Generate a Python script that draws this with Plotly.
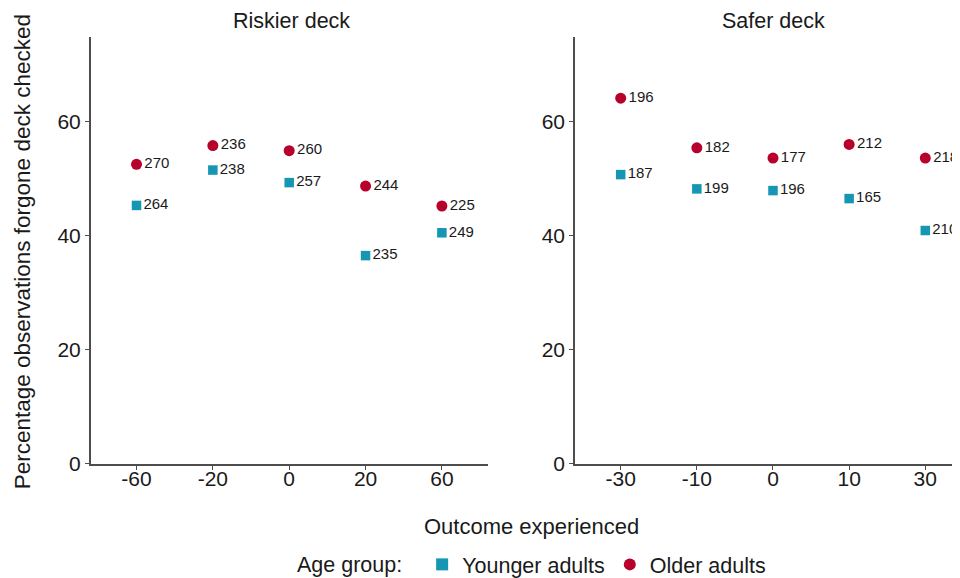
import plotly.graph_objects as go

# ---- data ----
risky_outcomes = ["-60", "-20", "0", "20", "60"]
safe_outcomes = ["-30", "-10", "0", "10", "30"]

risky_younger_pct = [45.3, 51.5, 49.3, 36.5, 40.5]
risky_younger_n = [264, 238, 257, 235, 249]
risky_older_pct = [52.5, 55.8, 54.9, 48.7, 45.2]
risky_older_n = [270, 236, 260, 244, 225]

safe_younger_pct = [50.7, 48.2, 47.9, 46.5, 40.9]
safe_younger_n = [187, 199, 196, 165, 210]
safe_older_pct = [64.1, 55.4, 53.6, 56.0, 53.6]
safe_older_n = [196, 182, 177, 212, 218]

y_ticks = [0, 20, 40, 60]

BLUE = "#1596B3"
RED = "#B8002C"
INK = "#1a1a1a"
FONT = "Liberation Sans, Arial, Helvetica, sans-serif"

# page body has an 8px margin; vertical positions are mapped with a measured factor
OFF = 8
YOFF, YK = 8.5, 0.978
W, H = 960 - OFF, 590


def px(x):  # window pixel x -> paper fraction
    return (x - OFF) / W


def py(y):  # window pixel y -> paper fraction
    return 1 - ((y - YOFF) / YK) / H


fig = go.Figure()


def add(x, y, n, color, symbol, size, name, xa, ya, show):
    fig.add_trace(go.Scatter(
        x=x, y=y, mode="markers+text",
        text=[str(v) for v in n], textposition="middle right",
        textfont=dict(size=15, color=INK, family=FONT),
        marker=dict(color=color, symbol=symbol, size=size),
        name=name, legendgroup=name, showlegend=show,
        xaxis=xa, yaxis=ya, cliponaxis=False, hoverinfo="x+y",
    ))


add(risky_outcomes, risky_younger_pct, risky_younger_n, BLUE, "square", 9.5, "Younger adults", "x", "y", True)
add(risky_outcomes, risky_older_pct, risky_older_n, RED, "circle", 11, "Older adults", "x", "y", True)
add(safe_outcomes, safe_younger_pct, safe_younger_n, BLUE, "square", 9.5, "Younger adults", "x2", "y2", False)
add(safe_outcomes, safe_older_pct, safe_older_n, RED, "circle", 11, "Older adults", "x2", "y2", False)

ydom = [py(462.7), py(37.3)]

axis_common = dict(
    showline=True, linecolor="#4d4d4d", linewidth=1.5,
    ticks="outside", ticklen=4, tickcolor="#4d4d4d", tickwidth=1.2,
    tickfont=dict(size=21, color=INK, family=FONT),
    showgrid=False, zeroline=False, fixedrange=True,
)

fig.update_layout(
    width=W, height=H, autosize=False,
    margin=dict(l=0, r=0, t=0, b=0),
    paper_bgcolor="white", plot_bgcolor="white",
    font=dict(family=FONT, color=INK),
    xaxis=dict(domain=[px(90.7), px(487.7)], type="category",
               categoryorder="array", categoryarray=risky_outcomes,
               range=[-0.6, 4.6], anchor="y", ticklabelstandoff=-9, **axis_common),
    xaxis2=dict(domain=[px(575), 1.0], type="category",
                categoryorder="array", categoryarray=safe_outcomes,
                range=[-0.6, -0.6 + (960 - 575) / 76.15], anchor="y2",
                ticklabelstandoff=-9, **axis_common),
    yaxis=dict(domain=ydom, range=[0, 74.85], tickvals=y_ticks, anchor="x",
               **axis_common),
    yaxis2=dict(domain=ydom, range=[0, 74.85], tickvals=y_ticks, anchor="x2",
                **axis_common),
    showlegend=True,
    legend=dict(
        orientation="h", x=px(533), xanchor="center", y=py(563), yanchor="middle",
        title=dict(text="Age group:  ", font=dict(size=21.5, family=FONT, color=INK)),
        font=dict(size=21.5, family=FONT, color=INK),
        itemsizing="constant", bgcolor="rgba(0,0,0,0)",
    ),
    annotations=[
        dict(text="Riskier deck", x=px(291), y=py(21), xref="paper", yref="paper",
             showarrow=False, font=dict(size=21.5, family=FONT, color=INK),
             xanchor="center", yanchor="middle"),
        dict(text="Safer deck", x=px(773), y=py(21), xref="paper", yref="paper",
             showarrow=False, font=dict(size=21.5, family=FONT, color=INK),
             xanchor="center", yanchor="middle"),
        dict(text="Outcome experienced", x=px(531), y=py(525), xref="paper", yref="paper",
             showarrow=False, font=dict(size=22, family=FONT, color=INK),
             xanchor="center", yanchor="middle"),
        dict(text="Percentage observations forgone deck checked", x=px(22), y=py(252),
             xref="paper", yref="paper", textangle=-90,
             showarrow=False, font=dict(size=22.5, family=FONT, color=INK),
             xanchor="center", yanchor="middle"),
    ],
)

fig.write_html("out.html")
